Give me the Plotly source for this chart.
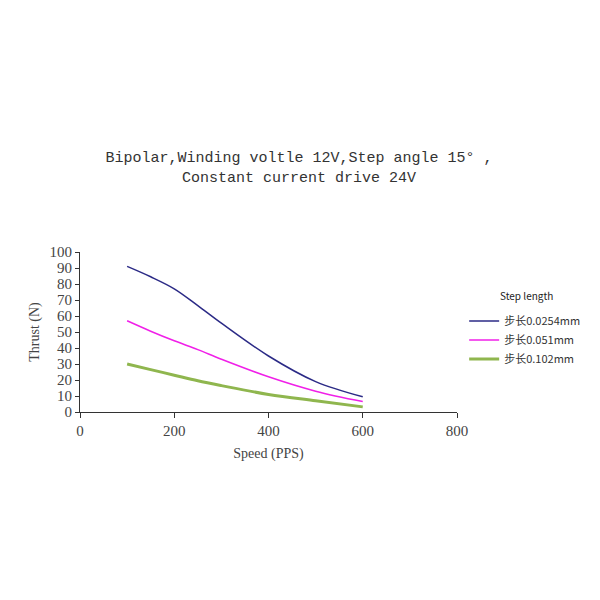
import plotly.graph_objects as go

speed = [100, 150, 200, 250, 300, 400, 500, 600]
thrust_0254 = [91, 84.5, 77, 66.5, 55.5, 35, 19, 9.5]
thrust_051 = [57, 50.5, 44.5, 39, 33, 22, 13, 6.5]
thrust_102 = [30, 26.5, 23, 19.5, 16.5, 11, 7, 3.2]
series_names = ["步长0.0254mm", "步长0.051mm", "步长0.102mm"]
colors = ["#2b2a86", "#f020e8", "#8fb64e"]
widths = [1.5, 1.5, 3]

fig = go.Figure()
for name, ys, c, w in zip(series_names, [thrust_0254, thrust_051, thrust_102], colors, widths):
    fig.add_trace(go.Scatter(x=speed, y=ys, mode="lines", name=name,
                             line=dict(color=c, width=w, shape="spline", smoothing=1.0)))

serif = "Liberation Serif"
fig.update_layout(
    width=600, height=600,
    paper_bgcolor="white", plot_bgcolor="white",
    margin=dict(l=72, r=151, t=244, b=196),
    title=dict(text="Bipolar,Winding voltle 12V,Step angle 15° ,<br>Constant current drive 24V",
               x=0.485, xanchor="center", y=0.743, yanchor="middle",
               font=dict(family="Liberation Mono", size=15, color="#333333")),
    legend=dict(x=1.019, xanchor="left", y=0.66, yanchor="top",
                font=dict(family="Noto Sans CJK SC", size=11, color="#333"),
                itemwidth=30, tracegroupgap=2),
    showlegend=True,
    annotations=[dict(text="Step length", xref="paper", yref="paper", x=1.11, y=0.73,
                      xanchor="left", yanchor="middle", showarrow=False,
                      font=dict(family="Noto Sans CJK SC", size=10, color="#222"))],
)
fig.update_xaxes(range=[0, 800], dtick=200, showgrid=False, zeroline=False,
                 showline=True, linecolor="#333", linewidth=1,
                 ticks="outside", ticklen=5, tickcolor="#333",
                 tickfont=dict(family=serif, size=15, color="#444"),
                 title=dict(text="Speed (PPS)", font=dict(family=serif, size=14, color="#444"), standoff=10))
fig.update_yaxes(range=[0, 100], dtick=10, showgrid=False, zeroline=False,
                 showline=True, linecolor="#333", linewidth=1,
                 ticks="outside", ticklen=4, tickcolor="#333",
                 tickfont=dict(family=serif, size=15, color="#444"),
                 title=dict(text="Thrust (N)", font=dict(family=serif, size=14, color="#444"), standoff=6))
fig.write_html("out.html")
